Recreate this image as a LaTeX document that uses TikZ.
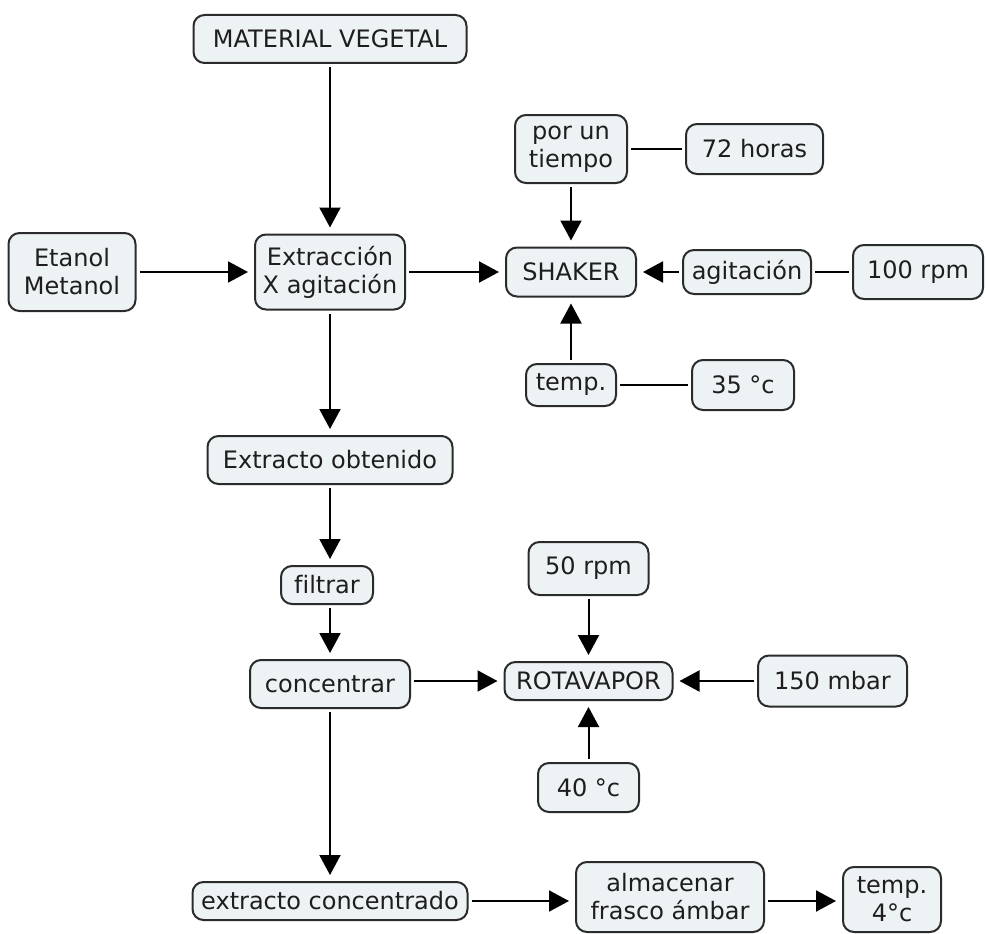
\documentclass[tikz,border=0pt]{standalone}
\usepackage{fontspec}
\setmainfont[Ligatures=NoCommon]{DejaVu Sans}
\usetikzlibrary{arrows.meta}
\definecolor{boxfill}{HTML}{EDF2F5}
\definecolor{boxline}{HTML}{2B2B2B}
\definecolor{txt}{HTML}{1E1E1E}
\begin{document}
\begin{tikzpicture}[x=1pt,y=-1pt,
  box/.style={draw=boxline, fill=boxfill, line width=2pt, rounded corners=11pt,
    align=center, font=\fontsize{24}{28}\selectfont, text=txt, inner sep=0pt},
  flow/.style={line width=2pt, draw=black, -{Triangle[length=20pt,width=21pt]},
    shorten >=6pt, shorten <=3pt},
  link/.style={line width=2pt, draw=black, shorten >=3pt, shorten <=3pt}]
\useasboundingbox (0,0) rectangle (986,934);

% main column
\node[box, minimum width=273, minimum height=48] (mv)   at (330,39)  {MATERIAL VEGETAL};
\node[box, minimum width=127, minimum height=78] (etan) at (72,272)  {Etanol\\Metanol};
\node[box, minimum width=150, minimum height=75] (ext)  at (330,272) {Extracción\\X agitación};
\node[box, minimum width=245, minimum height=48] (obt)  at (330,460) {Extracto obtenido};
\node[box, minimum width=92,  minimum height=38] (filt) at (327,585) {filtrar};
\node[box, minimum width=160, minimum height=48] (conc) at (330,684) {concentrar};
\node[box, minimum width=275, minimum height=38] (exc)  at (330,901) {extracto concentrado};
\node[box, minimum width=188, minimum height=70] (alm)  at (670,897) {almacenar\\frasco ámbar};
\node[box, minimum width=98,  minimum height=65] (tfour) at (892,899.5) {temp.\\4°c};

% shaker group
\node[box, minimum width=130, minimum height=49] (shak) at (571,272) {SHAKER};
\node[box, minimum width=112, minimum height=68] (tiem) at (571,149) {por un\\tiempo};
\node[box, minimum width=137, minimum height=50] (hrs)  at (754.5,149) {72 horas};
\node[box, minimum width=128, minimum height=44] (agit) at (747,272) {agitación};
\node[box, minimum width=130, minimum height=54] (rpmA) at (918,272) {100 rpm};
\node[box, minimum width=90,  minimum height=42] (tmpA) at (571,385) {temp.};
\node[box, minimum width=102, minimum height=50] (cA)   at (743,385) {35 °c};

% rotavapor group
\node[box, minimum width=168, minimum height=38] (rota) at (588.5,681) {ROTAVAPOR};
\node[box, minimum width=120, minimum height=53] (rpmB) at (588.5,568.5) {50 rpm};
\node[box, minimum width=149, minimum height=51] (mbar) at (832.5,681) {150 mbar};
\node[box, minimum width=101, minimum height=49] (cB)   at (588.5,787.5) {40 °c};

% connectors
\draw[flow] (mv) -- (ext);
\draw[flow] (etan) -- (ext);
\draw[flow] (ext) -- (shak);
\draw[flow] (tiem) -- (shak);
\draw[flow] (agit) -- (shak);
\draw[flow] (tmpA) -- (shak);
\draw[link] (tiem) -- (hrs);
\draw[link] (agit) -- (rpmA);
\draw[link] (tmpA) -- (cA);

\draw[flow] (ext) -- (obt);
\draw[flow] (obt.south) -- (obt.south |- filt.north);
\draw[flow] (filt.south -| obt.south) -- (conc.north);
\draw[flow] (conc.east |- rota.west) -- (rota.west);
\draw[flow] (rpmB) -- (rota);
\draw[flow] (mbar) -- (rota);
\draw[flow] (cB) -- (rota);

\draw[flow] (conc) -- (exc);
\draw[flow] (exc.east) -- (exc.east -| alm.west);
\draw[flow] (exc.east -| alm.east) -- (exc.east -| tfour.west);
\end{tikzpicture}
\end{document}
